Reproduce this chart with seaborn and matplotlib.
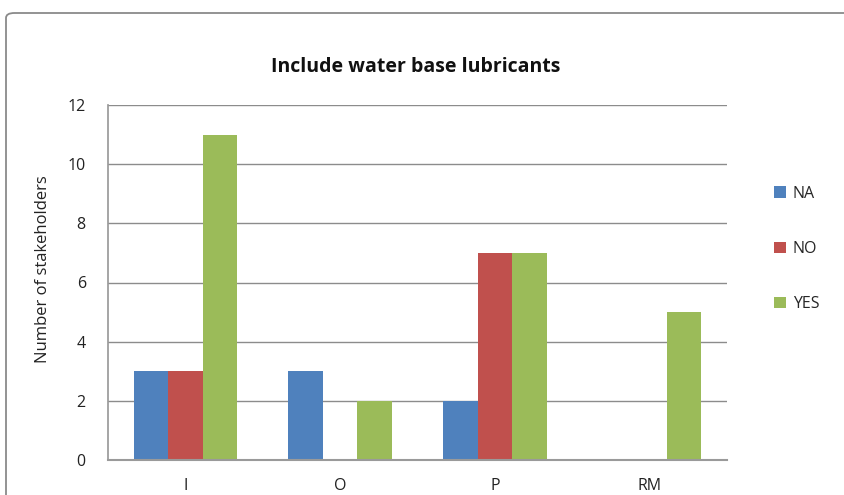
import matplotlib
matplotlib.use("Agg")
import matplotlib.pyplot as plt
import seaborn as sns
import pandas as pd
from matplotlib.patches import FancyBboxPatch, Patch

categories = ["I", "O", "P", "RM"]
series = ["NA", "NO", "YES"]
na_values = [3, 3, 2, 0]
no_values = [3, 0, 7, 0]
yes_values = [11, 2, 7, 5]
yticks = [0, 2, 4, 6, 8, 10, 12]
colors = ["#4F81BD", "#C0504D", "#9BBB59"]

rows = []
for s, vals in zip(series, [na_values, no_values, yes_values]):
    for c, v in zip(categories, vals):
        rows.append({"cat": c, "series": s, "value": v})
df = pd.DataFrame(rows)

sns.set_theme(style="white")
plt.rcParams["font.family"] = ["Open Sans", "DejaVu Sans"]

fig = plt.figure(figsize=(8.45, 4.95), dpi=100)
ax = fig.add_axes([108 / 845, 35 / 495, 619 / 845, 355 / 495])

sns.barplot(data=df, x="cat", y="value", hue="series", palette=colors,
            order=categories, hue_order=series, width=0.67, saturation=1,
            ax=ax, legend=False, edgecolor="none", linewidth=0)

ax.set_ylim(0, 12)
ax.set_yticks(yticks)
ax.set_yticklabels([str(t) for t in yticks], fontsize=11.5, color="#222222")
ax.tick_params(axis="x", labelsize=11.5, colors="#222222", pad=13, length=0)
ax.tick_params(axis="y", pad=16, length=0)
ax.yaxis.grid(True, color="#8c8c8c", linewidth=1)
ax.set_axisbelow(True)
for side in ["top", "right"]:
    ax.spines[side].set_visible(False)
ax.spines["left"].set_color("#9a9a9a")
ax.spines["bottom"].set_color("#9a9a9a")
ax.spines["bottom"].set_linewidth(1.5)
ax.set_xlabel("")
ax.set_ylabel("Number of stakeholders", fontsize=12, color="#222222")
ax.yaxis.set_label_coords(-0.092, 0.538)

fig.text(416 / 845, 1 - 67 / 495, "Include water base lubricants",
         ha="center", va="center", fontsize=14, fontweight="bold", color="#111111")

handles = [Patch(facecolor=c, edgecolor="none") for c in colors]
fig.legend(handles, series, loc="center left", bbox_to_anchor=(760 / 845, 1 - 249 / 495),
           frameon=False, fontsize=11.5, labelspacing=2.45, handlelength=0.75,
           handleheight=0.75, handletextpad=0.4)

border = FancyBboxPatch((6 / 845, -0.1), 1.1, (495 - 13) / 495 + 0.1,
                        boxstyle="round,pad=0,rounding_size=0.01",
                        transform=fig.transFigure, fill=False,
                        edgecolor="#8a8a8a", linewidth=1.3, clip_on=False)
fig.patches.append(border)

fig.savefig("out.png", dpi=100)
